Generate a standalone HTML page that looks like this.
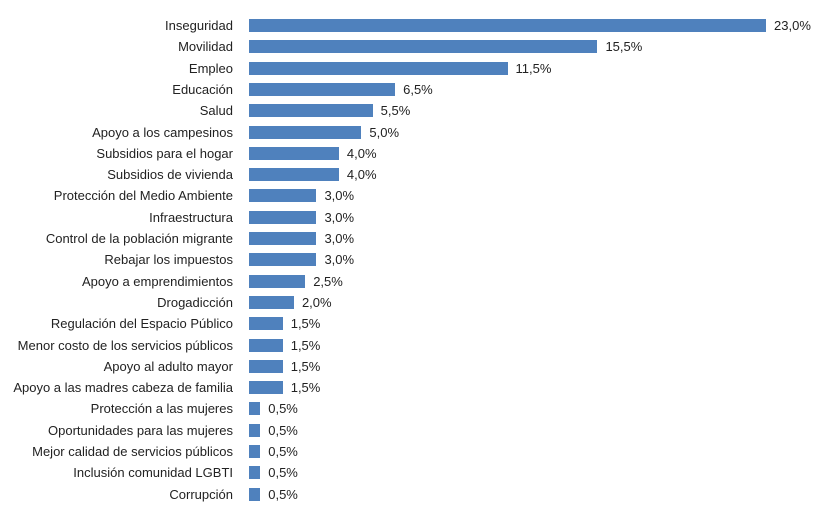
<!DOCTYPE html><html><head><style>
body{margin:0;background:#fff;width:826px;height:518px;overflow:hidden;font-family:"Liberation Sans",sans-serif;font-size:13px;color:#222}
.l{position:absolute;right:593px;text-align:right;white-space:nowrap;line-height:13px}
.b{position:absolute;left:249px;background:#4f81bd;height:13px}
.v{position:absolute;line-height:13px}
</style></head><body>
<div id="c"></div>
<script>
const d=[["Inseguridad",23],["Movilidad",15.5],["Empleo",11.5],["Educación",6.5],["Salud",5.5],["Apoyo a los campesinos",5],["Subsidios para el hogar",4],["Subsidios de vivienda",4],["Protección del Medio Ambiente",3],["Infraestructura",3],["Control de la población migrante",3],["Rebajar los impuestos",3],["Apoyo a emprendimientos",2.5],["Drogadicción",2],["Regulación del Espacio Público",1.5],["Menor costo de los servicios públicos",1.5],["Apoyo al adulto mayor",1.5],["Apoyo a las madres cabeza de familia",1.5],["Protección a las mujeres",0.5],["Oportunidades para las mujeres",0.5],["Mejor calidad de servicios públicos",0.5],["Inclusión comunidad LGBTI",0.5],["Corrupción",0.5]];
let h="";d.forEach((e,i)=>{const y=19+i*21.3;const w=e[1]*22.48;
h+=`<div class="l" style="top:${y}px">${e[0]}</div><div class="b" style="top:${y}px;width:${w}px"></div><div class="v" style="top:${y}px;left:${249+w+8}px">${e[1].toFixed(1).replace('.',',')}%</div>`});
document.getElementById('c').innerHTML=h;
</script></body></html>
